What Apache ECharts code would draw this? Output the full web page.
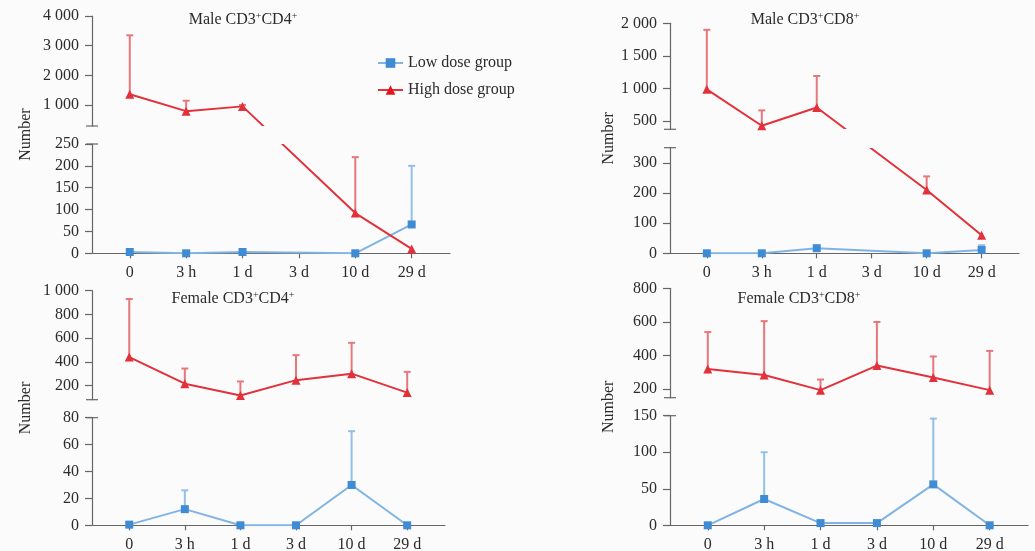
<!DOCTYPE html>
<html><head><meta charset="utf-8">
<script src="https://cdn.jsdelivr.net/npm/echarts@6/dist/echarts.min.js"></script>
<style>html,body{margin:0;padding:0;background:#fbfbfb}#c{width:1035px;height:551px}</style>
</head><body><div id="c"></div><script>
// ---------- DATA ----------
const categories = ['0', '3 h', '1 d', '3 d', '10 d', '29 d'];
const seriesNames = ['Low dose group', 'High dose group'];

// Male CD3+CD4+
const maleCD4Low = [3, 0, 3, null, 0, 66];
const maleCD4LowErr = [null, null, null, null, null, 200];
const maleCD4High = [1370, 800, 960, null, 92, 10];
const maleCD4HighErr = [3350, 1150, 1010, null, 220, null];
const maleCD4UpperRange = [300, 4000];
const maleCD4LowerRange = [0, 250];
const maleCD4UpperTicks = [1000, 2000, 3000, 4000];
const maleCD4LowerTicks = [0, 50, 100, 150, 200, 250];

// Male CD3+CD8+
const maleCD8Low = [0, 0, 17, null, 0, 11];
const maleCD8LowErr = [null, null, null, null, null, 27];
const maleCD8High = [985, 425, 705, null, 210, 60];
const maleCD8HighErr = [1900, 660, 1190, null, 255, null];
const maleCD8UpperRange = [370, 2000];
const maleCD8LowerRange = [0, 350];
const maleCD8UpperTicks = [500, 1000, 1500, 2000];
const maleCD8LowerTicks = [0, 100, 200, 300];

// Female CD3+CD4+
const femaleCD4Low = [0.5, 12, 0, 0, 30, 0];
const femaleCD4LowErr = [null, 26, null, null, 70, null];
const femaleCD4High = [440, 215, 115, 245, 300, 140];
const femaleCD4HighErr = [930, 343, 234, 456, 560, 315];
const femaleCD4UpperRange = [80, 1000];
const femaleCD4LowerRange = [0, 80];
const femaleCD4UpperTicks = [200, 400, 600, 800, 1000];
const femaleCD4LowerTicks = [0, 20, 40, 60, 80];

// Female CD3+CD8+
const femaleCD8Low = [0, 36, 3, 3, 56, 0];
const femaleCD8LowErr = [null, 100, null, null, 146, null];
const femaleCD8High = [320, 285, 195, 341, 270, 195];
const femaleCD8HighErr = [540, 605, 258, 600, 395, 428];
const femaleCD8UpperRange = [150, 800];
const femaleCD8LowerRange = [0, 150];
const femaleCD8UpperTicks = [200, 400, 600, 800];
const femaleCD8LowerTicks = [0, 50, 100, 150];

// ---------- STYLE / LAYOUT ----------
const FONT = "'Liberation Serif', 'Times New Roman', serif";
const AXIS_COLOR = '#666';
const TEXT_COLOR = '#2b2b2b';
const BLUE_LINE = '#80b4e4', BLUE_MARK = '#3f8bd4', BLUE_ERR = '#93c0ea';
const RED_LINE = '#e2313a', RED_MARK = '#e3141b', RED_ERR = '#e6787c';
const X_RANGE = [-0.67, 5.68];

const panels = [
  { title: ['Male CD3', 'CD4'], titlePos: [243, 20], left: 92, width: 358, top: 16, Hu: 110, G: 18, Hl: 109.3, nameGap: 58,
    low: maleCD4Low, lowErr: maleCD4LowErr, high: maleCD4High, highErr: maleCD4HighErr,
    upRange: maleCD4UpperRange, lowRange: maleCD4LowerRange, upTicks: maleCD4UpperTicks, lowTicks: maleCD4LowerTicks },
  { title: ['Male CD3', 'CD8'], titlePos: [805, 20], left: 670, width: 349, top: 23.3, Hu: 106, G: 18.4, Hl: 105.6, nameGap: 53,
    low: maleCD8Low, lowErr: maleCD8LowErr, high: maleCD8High, highErr: maleCD8HighErr,
    upRange: maleCD8UpperRange, lowRange: maleCD8LowerRange, upTicks: maleCD8UpperTicks, lowTicks: maleCD8LowerTicks },
  { title: ['Female CD3', 'CD4'], titlePos: [233, 299], left: 92, width: 353, top: 290.7, Hu: 109, G: 18, Hl: 107.6, nameGap: 58,
    low: femaleCD4Low, lowErr: femaleCD4LowErr, high: femaleCD4High, highErr: femaleCD4HighErr,
    upRange: femaleCD4UpperRange, lowRange: femaleCD4LowerRange, upTicks: femaleCD4UpperTicks, lowTicks: femaleCD4LowerTicks },
  { title: ['Female CD3', 'CD8'], titlePos: [799, 299], left: 670, width: 358, top: 288.3, Hu: 109.4, G: 18, Hl: 109.6, nameGap: 53,
    low: femaleCD8Low, lowErr: femaleCD8LowErr, high: femaleCD8High, highErr: femaleCD8HighErr,
    upRange: femaleCD8UpperRange, lowRange: femaleCD8LowerRange, upTicks: femaleCD8UpperTicks, lowTicks: femaleCD8LowerTicks }
];

const fmtNum = v => String(Math.round(v)).replace(/\B(?=(\d{3})+(?!\d))/g, ' ');
const CAP = 'path://M0,0L10,0L10,1L0,1Z';
const labelStyle = { fontFamily: FONT, fontSize: 16, color: TEXT_COLOR };

// broken-axis scale: lower segment + gap + upper segment
function makeScale(p) {
  const [l0, l1] = p.lowRange, [u0, u1] = p.upRange;
  return v => {
    if (v <= l1) return (v - l0) / (l1 - l0) * p.Hl;
    if (v >= u0) return p.Hl + p.G + (v - u0) / (u1 - u0) * p.Hu;
    return p.Hl + (v - l1) / (u0 - l1) * p.G;
  };
}

const grid = [], xAxis = [], yAxis = [], series = [], visualMap = [], graphic = [];

function errSeries(ai, vals, errs, color, sc) {
  const data = [];
  vals.forEach((v, i) => { if (v != null && errs[i] != null) data.push([i, sc(v), sc(errs[i])]); });
  return {
    type: 'custom', xAxisIndex: ai, yAxisIndex: ai, data, silent: true, z: 1,
    encode: { x: 0, y: [1, 2] },
    renderItem(params, api) {
      const p0 = api.coord([api.value(0), api.value(1)]);
      const p1 = api.coord([api.value(0), api.value(2)]);
      return { type: 'group', children: [
        { type: 'line', shape: { x1: p0[0], y1: p0[1], x2: p1[0], y2: p1[1] }, style: { stroke: color, lineWidth: 2 } },
        { type: 'line', shape: { x1: p1[0] - 3.5, y1: p1[1], x2: p1[0] + 3.5, y2: p1[1] }, style: { stroke: color, lineWidth: 2 } }
      ] };
    }
  };
}

panels.forEach((p, k) => {
  const sc = makeScale(p);
  const base = k * 3;
  const total = p.Hu + p.G + p.Hl;
  grid.push({ left: p.left, width: p.width, top: p.top, height: p.Hu, outerBoundsMode: 'none' });
  grid.push({ left: p.left, width: p.width, top: p.top + p.Hu + p.G, height: p.Hl, outerBoundsMode: 'none' });
  grid.push({ left: p.left, width: p.width, top: p.top, height: total, outerBoundsMode: 'none' });

  xAxis.push({ gridIndex: base, type: 'value', min: X_RANGE[0], max: X_RANGE[1], show: false });
  xAxis.push({ gridIndex: base + 1, type: 'value', min: X_RANGE[0], max: X_RANGE[1],
    axisLine: { onZero: false, lineStyle: { color: AXIS_COLOR, width: 1.2 } },
    axisTick: { length: 5, customValues: categories.map((c, i) => i), lineStyle: { color: AXIS_COLOR, width: 1.2 } },
    axisLabel: Object.assign({ customValues: categories.map((c, i) => i), margin: 11,
      formatter: v => categories[Math.round(v)] }, labelStyle),
    splitLine: { show: false } });
  xAxis.push({ gridIndex: base + 2, type: 'value', min: X_RANGE[0], max: X_RANGE[1], show: false });

  yAxis.push({ gridIndex: base, type: 'value', min: p.upRange[0], max: p.upRange[1],
    axisLine: { show: true, onZero: false, symbol: [CAP, 'none'], symbolSize: [13, 1.2], lineStyle: { color: AXIS_COLOR, width: 1.2 } },
    axisTick: { show: true, length: 7, customValues: p.upTicks, lineStyle: { color: AXIS_COLOR, width: 1.2 } },
    axisLabel: Object.assign({ customValues: p.upTicks, margin: 13, formatter: fmtNum }, labelStyle),
    splitLine: { show: false } });
  yAxis.push({ gridIndex: base + 1, type: 'value', min: p.lowRange[0], max: p.lowRange[1],
    axisLine: { show: true, onZero: false, symbol: ['none', CAP], symbolSize: [13, 1.2], lineStyle: { color: AXIS_COLOR, width: 1.2 } },
    axisTick: { show: true, length: 7, customValues: p.lowTicks, lineStyle: { color: AXIS_COLOR, width: 1.2 } },
    axisLabel: Object.assign({ customValues: p.lowTicks, margin: 13, formatter: fmtNum }, labelStyle),
    splitLine: { show: false } });
  yAxis.push({ gridIndex: base + 2, type: 'value', min: 0, max: total,
    name: 'Number', nameLocation: 'middle', nameGap: p.nameGap,
    nameTextStyle: { fontFamily: FONT, fontSize: 16, color: TEXT_COLOR },
    axisLine: { show: false, onZero: false }, axisTick: { show: false }, axisLabel: { show: false }, splitLine: { show: false } });

  const ai = base + 2;
  series.push(errSeries(ai, p.low, p.lowErr, BLUE_ERR, sc));
  series.push(errSeries(ai, p.high, p.highErr, RED_ERR, sc));
  const toPts = arr => arr.map((v, i) => v == null ? null : [i, sc(v)]).filter(d => d);
  series.push({ type: 'line', name: seriesNames[0], xAxisIndex: ai, yAxisIndex: ai, data: toPts(p.low),
    symbol: 'rect', symbolSize: 8, itemStyle: { color: BLUE_MARK }, lineStyle: { color: BLUE_LINE, width: 2 },
    silent: true, animation: false, z: 3 });
  series.push({ type: 'line', name: seriesNames[1], xAxisIndex: ai, yAxisIndex: ai, data: toPts(p.high),
    symbol: 'triangle', symbolSize: 9, itemStyle: { color: RED_MARK }, lineStyle: { width: 2 },
    silent: true, animation: false, z: 4 });
  // hide the line where it passes through the axis break
  visualMap.push({ type: 'piecewise', show: false, seriesIndex: series.length - 1, dimension: 1,
    pieces: [{ lt: p.Hl, color: RED_LINE }, { gte: p.Hl, lte: p.Hl + p.G, color: 'rgba(255,255,255,0)' }, { gt: p.Hl + p.G, color: RED_LINE }] });

  graphic.push({ type: 'text', x: p.titlePos[0], y: p.titlePos[1], silent: true,
    style: { text: '{a|' + p.title[0] + '}{s|+}{a|' + p.title[1] + '}{s|+}', align: 'center', verticalAlign: 'middle',
      rich: { a: { fontFamily: FONT, fontSize: 16, lineHeight: 18, fill: TEXT_COLOR, color: TEXT_COLOR },
              s: { fontFamily: FONT, fontSize: 10, lineHeight: 9, verticalAlign: 'top', fill: TEXT_COLOR, color: TEXT_COLOR } } } });
});

const chart = echarts.init(document.getElementById('c'), null, { renderer: 'canvas' });
chart.setOption({
  backgroundColor: '#fbfbfb',
  animation: false,
  grid, xAxis, yAxis, series, visualMap, graphic,
  legend: { orient: 'vertical', left: 372, top: 50, itemWidth: 25, itemHeight: 12, itemGap: 11,
    textStyle: { fontFamily: FONT, fontSize: 16, color: TEXT_COLOR },
    data: [
      { name: seriesNames[0], itemStyle: { color: BLUE_MARK }, lineStyle: { color: BLUE_LINE } },
      { name: seriesNames[1], itemStyle: { color: RED_MARK }, lineStyle: { color: RED_LINE } }
    ] }
});
</script></body></html>
